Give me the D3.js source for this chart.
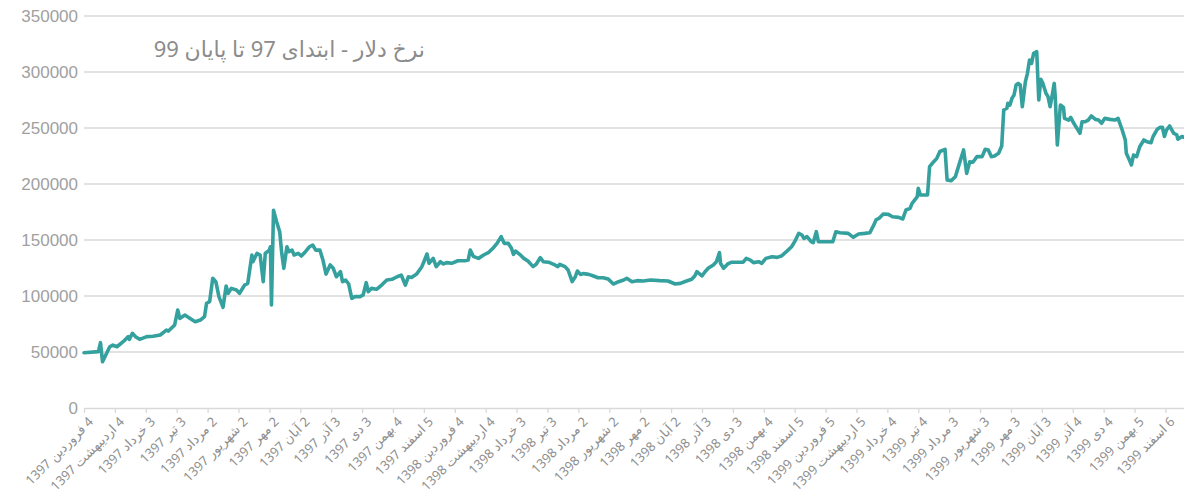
<!DOCTYPE html>
<html>
<head>
<meta charset="utf-8">
<script src="https://cdn.jsdelivr.net/npm/d3@7"></script>
<style>
  html, body { margin: 0; padding: 0; background: #fff; }
  svg { display: block; }
</style>
</head>
<body>
<svg id="chart" width="1184" height="502"></svg>
<script>
// ---- DATA ----
const chartTitle = "نرخ دلار - ابتدای 97 تا پایان 99";

// tick labels, one every 30 days starting 4 Farvardin 1397
const tickLabels = [
  "4 فروردین 1397", "4 اردیبهشت 1397", "3 خرداد 1397", "3 تیر 1397",
  "2 مرداد 1397", "2 شهریور 1397", "2 مهر 1397", "2 آبان 1397",
  "3 آذر 1397", "3 دی 1397", "4 بهمن 1397", "5 اسفند 1397",
  "4 فروردین 1398", "4 اردیبهشت 1398", "3 خرداد 1398", "3 تیر 1398",
  "2 مرداد 1398", "2 شهریور 1398", "2 مهر 1398", "2 آبان 1398",
  "3 آذر 1398", "3 دی 1398", "4 بهمن 1398", "5 اسفند 1398",
  "5 فروردین 1399", "5 اردیبهشت 1399", "4 خرداد 1399", "4 تیر 1399",
  "3 مرداد 1399", "3 شهریور 1399", "3 مهر 1399", "3 آبان 1399",
  "4 آذر 1399", "4 دی 1399", "5 بهمن 1399", "6 اسفند 1399"
];

const yTicks = [0, 50000, 100000, 150000, 200000, 250000, 300000, 350000];

// day number (days since 4 Farvardin 1397)
const day = [
  0,14,16,18,25,28,32,38,43,44,47,50,54,61,67,74,80,82,88,91,93,98,103,108,113,117,119,122,125,128,
  131,135,138,140,143,148,151,156,159,163,164,168,171,174,176,180,181,182,184,187,190,192,194,197,199,202,204,208,211,215,
  219,222,225,229,232,235,239,242,245,249,251,254,257,260,263,268,271,274,276,279,284,289,294,299,304,308,312,315,318,323,
  328,330,333,335,339,342,346,349,352,357,363,370,373,375,378,383,388,393,397,401,405,408,412,415,417,419,423,427,431,436,
  439,443,446,451,456,460,462,467,470,474,477,479,482,485,490,494,499,504,509,514,519,524,527,532,537,543,550,559,567,574,
  579,585,590,593,595,600,603,606,611,614,617,618,621,625,629,635,640,643,647,650,655,658,662,668,673,677,682,687,690,694,
  697,699,702,706,708,711,713,718,727,730,734,742,747,752,758,763,766,769,772,776,781,785,791,795,798,802,804,807,809,810,
  812,819,821,825,828,831,836,838,842,846,849,854,857,860,863,867,872,875,878,881,884,888,891,893,896,897,899,901,903,905,
  907,909,911,914,916,918,920,922,925,927,929,931,934,936,938,940,942,943,945,948,951,952,956,958,961,964,967,969,972,975,
  978,982,985,988,991,996,1001,1004,1008,1011,1012,1015,1017,1019,1022,1025,1029,1032,1036,1038,1042,1045,1047,1049,1051,1054,1058,1061,1062,1066,
  1068
];

// dollar rate (rial) on those days
const rate = [
  49400,50300,58300,41300,54700,56200,54700,59200,63700,61300,66700,63700,61300,63700,64100,65200,69600,68700,74100,87500,80000,83000,80000,77000,78500,81500,93500,95000,115800,112800,
  99400,89900,108900,102400,106800,105400,102400,109800,111300,136600,130600,138100,136600,112800,138000,141000,144000,92000,176500,166300,157400,138100,124700,144000,139600,141000,136600,138100,135700,139600,
  144000,145500,141000,141000,132100,119600,127700,124700,117200,121700,112800,114300,110700,97900,99400,99400,100900,111900,103800,106800,106000,109800,114300,114900,117200,118700,109800,117200,116600,119600,
  126200,130600,137500,129200,133600,126200,130600,128600,129800,129200,131500,131500,132100,141000,135400,133600,136600,139000,142600,147000,153000,147000,147000,142600,137200,140100,137200,133600,131200,126200,
  128300,134200,130600,130200,128300,126200,128300,126200,123200,112800,117200,122300,119300,120000,119300,118100,116300,116300,115100,110700,112800,114300,115800,112800,113700,113400,114300,113700,113400,110700,
  111300,113400,114900,117900,121700,117900,121700,124700,127700,130600,138700,129200,124700,128600,130200,130200,130200,133600,132100,129800,130600,129200,133600,135100,134500,135700,139600,144000,148500,156000,
  154500,151500,153000,148500,147600,157400,148500,148500,148500,157400,156500,155900,152400,155400,155900,156500,161900,167900,169400,173200,172900,170800,170200,168800,176800,178300,182700,186200,188700,196200,
  190200,190200,215500,219900,222900,229000,231000,203600,203000,206500,215500,230400,209500,219900,219400,224400,224400,231000,230400,224400,225000,227400,233900,266100,267600,272000,270500,276600,279500,288400,
  289800,288400,269000,291400,298800,310700,307700,316700,318100,275000,293400,289800,281000,278000,269000,279000,289800,278000,234800,270500,268400,258600,257100,259500,254200,249800,245300,255600,255600,257100,
  260700,257700,257100,254200,258600,257700,257100,258600,248200,239300,227400,221400,217000,225900,224400,233300,239300,237800,236900,242400,248800,250700,250700,242400,248200,251800,245300,243900,240000,242400,
  241800
];

// ---- DRAW ----
const svg = d3.select("#chart");
const W = 1184, H = 502;
const margin = { left: 84, right: 0, top: 16, bottom: 94 };

const x = d3.scaleLinear().domain([0, 1068]).range([margin.left, W - margin.right]);
const y = d3.scaleLinear().domain([0, 350000]).range([H - margin.bottom, margin.top]);

const gridColor = "#d9d9d9";
const labelColor = "#a0a0a0";

// gridlines
svg.append("g")
  .selectAll("line")
  .data(yTicks.filter(v => v > 0))
  .join("line")
  .attr("x1", x.range()[0]).attr("x2", x.range()[1])
  .attr("y1", d => y(d)).attr("y2", d => y(d))
  .attr("stroke", gridColor).attr("stroke-width", 1.3);

// y axis labels
const yAxis = d3.axisLeft(y).tickValues(yTicks).tickSize(0).tickPadding(6).tickFormat(d3.format("d"));
const gy = svg.append("g").attr("transform", `translate(${margin.left},0)`).call(yAxis);
gy.select(".domain").remove();
gy.selectAll("text")
  .attr("fill", labelColor)
  .style("font-family", "'Liberation Sans', Arial, sans-serif")
  .style("font-size", "17px");

// x axis
const tickDays = tickLabels.map((_, i) => i * 30);
const xAxis = d3.axisBottom(x).tickValues(tickDays).tickSize(5).tickSizeOuter(0)
  .tickFormat((d, i) => "\u202B" + tickLabels[i] + "\u202C");
const gx = svg.append("g").attr("transform", `translate(0,${y(0)})`).call(xAxis);
gx.select(".domain").attr("stroke", gridColor).attr("stroke-width", 1.3);
gx.selectAll(".tick line").attr("stroke", gridColor).attr("stroke-width", 1.3);
gx.selectAll("text")
  .attr("fill", "#8f8f8f")
  .style("font-family", "'Noto Sans', 'DejaVu Sans', sans-serif")
  .style("font-size", "13px")
  .attr("text-anchor", "end")
  .attr("x", 5)
  .attr("y", 10)
  .attr("dy", "0.5em")
  .attr("transform", "rotate(-45, 5, 10)");

// line
const pts = day.map((d, i) => [d, rate[i]]);
const line = d3.line().x(d => x(d[0])).y(d => y(d[1]));
svg.append("path")
  .datum(pts)
  .attr("d", line)
  .attr("fill", "none")
  .attr("stroke", "#35a19e")
  .attr("stroke-width", 3.6)
  .attr("stroke-linejoin", "round")
  .attr("stroke-linecap", "round");

// title
svg.append("text")
  .attr("x", 425).attr("y", 57)
  .attr("text-anchor", "end")
  .attr("fill", "#8c8c8c")
  .style("font-family", "'Noto Sans', 'DejaVu Sans', sans-serif")
  .style("font-size", "22px")
  .text("\u202B" + chartTitle + "\u202C");
</script>
</body>
</html>
